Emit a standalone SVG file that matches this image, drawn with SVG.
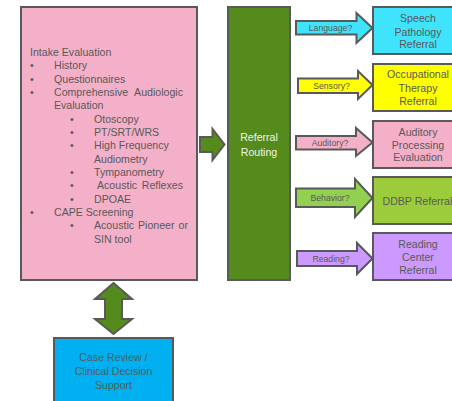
<svg xmlns="http://www.w3.org/2000/svg" width="452" height="401" viewBox="0 0 452 401">
<style>
  .box { stroke: #595959; stroke-width: 2; }
  .arr { stroke: #595959; stroke-width: 2; stroke-linejoin: miter; }
  text { font-family: "Liberation Sans", Arial, sans-serif; fill: #595959; }
  .lst { font-size: 10.6px; }
  .ref { font-size: 10.6px; text-anchor: middle; }
  .lbl { font-size: 8.7px; text-anchor: middle; }
  .wht { fill: #EEF3E8; }
</style>
<rect width="452" height="401" fill="#FFFFFF"/>

<g id="intake">
  <rect class="box" x="21" y="7" width="176" height="273" fill="#F4B0C8"/>
  <g class="lst">
    <text x="30" y="56">Intake Evaluation</text>
    <text x="30" y="69.3">•</text><text x="54" y="69.3">History</text>
    <text x="30" y="82.6">•</text><text x="54" y="82.6">Questionnaires</text>
    <text x="30" y="96">•</text><text x="54" y="96">Comprehensive</text><text x="183" y="96" text-anchor="end">Audiologic</text>
    <text x="54" y="109.3">Evaluation</text>
    <text x="70" y="122.6">•</text><text x="94" y="122.6">Otoscopy</text>
    <text x="70" y="136">•</text><text x="94" y="136">PT/SRT/WRS</text>
    <text x="70" y="149.3">•</text><text x="94" y="149.3">High Frequency</text>
    <text x="94" y="162.6">Audiometry</text>
    <text x="70" y="176">•</text><text x="94" y="176">Tympanometry</text>
    <text x="70" y="189.3">•</text><text x="97" y="189.3">Acoustic</text><text x="183" y="189.3" text-anchor="end">Reflexes</text>
    <text x="70" y="202.6">•</text><text x="94" y="202.6">DPOAE</text>
    <text x="30" y="216">•</text><text x="54" y="216">CAPE Screening</text>
    <text x="70" y="229.3">•</text><text x="94" y="229.3">Acoustic</text><text x="138" y="229.3">Pioneer</text><text x="188" y="229.3" text-anchor="end">or</text>
    <text x="94" y="242.6">SIN tool</text>
  </g>
</g>

<g id="routing">
  <rect class="box" x="228" y="7" width="62" height="273" fill="#548B1C"/>
  <text class="ref wht" x="259" y="141">Referral</text>
  <text class="ref wht" x="259" y="156">Routing</text>
</g>

<g id="speech">
  <rect class="box" x="373" y="7" width="92" height="47" fill="#3FE3FB"/>
  <text class="ref" x="418" y="22">Speech</text>
  <text class="ref" x="418" y="35.5">Pathology</text>
  <text class="ref" x="418" y="48">Referral</text>
</g>

<g id="ot">
  <rect class="box" x="373" y="64" width="92" height="47" fill="#FFFF00"/>
  <text class="ref" x="418" y="78">Occupational</text>
  <text class="ref" x="418" y="92">Therapy</text>
  <text class="ref" x="418" y="105">Referral</text>
</g>

<g id="apd">
  <rect class="box" x="373" y="121" width="92" height="47" fill="#F4B0C8"/>
  <text class="ref" x="418" y="136">Auditory</text>
  <text class="ref" x="418" y="148.5">Processing</text>
  <text class="ref" x="418" y="161">Evaluation</text>
</g>

<g id="ddbp">
  <rect class="box" x="373" y="177" width="92" height="47" fill="#9CCB3B"/>
  <text class="lst" x="382.5" y="205">DDBP Referral</text>
</g>

<g id="reading">
  <rect class="box" x="373" y="233" width="92" height="47" fill="#CC99FF"/>
  <text class="ref" x="418" y="248">Reading</text>
  <text class="ref" x="418" y="261">Center</text>
  <text class="ref" x="418" y="274">Referral</text>
</g>

<g id="casereview">
  <rect class="box" x="54" y="338" width="119" height="70" fill="#00B0F0"/>
  <text class="ref" x="113.5" y="361">Case Review /</text>
  <text class="ref" x="113.5" y="375">Clinical Decision</text>
  <text class="ref" x="113.5" y="388.5">Support</text>
</g>

<g id="connectors">
  <polygon class="arr" fill="#548B1C" points="200,137 212.5,137 212.5,129 224.5,144.5 212.5,160 212.5,152 200,152"/>
  <polygon class="arr" fill="#548B1C" points="113.5,283 132,299 122,299 122,319 132,319 113.5,334 95,319 105,319 105,299 95,299"/>

  <polygon class="arr" fill="#3FE3FB" points="296,21 356.5,21 356.5,13 372.5,28 356.5,43 356.5,34.5 296,34.5"/>
  <text class="lbl" x="330.5" y="31">Language?</text>

  <polygon class="arr" fill="#FFFF00" points="298,78.5 358,78.5 358,71 372.5,85 358,99 358,93 298,93"/>
  <text class="lbl" x="331.5" y="89">Sensory?</text>

  <polygon class="arr" fill="#F4B0C8" points="296,136 356,136 356,128 372.5,142.5 356,156 356,149.5 296,149.5"/>
  <text class="lbl" x="330" y="146">Auditory?</text>

  <polygon class="arr" fill="#92D050" points="296,188.5 355,188.5 355,179 372.5,198 355,217 355,207 296,207"/>
  <text class="lbl" x="330" y="201">Behavior?</text>

  <polygon class="arr" fill="#CC99FF" points="297,251 357,251 357,243 372.5,258.5 357,274 357,266 297,266"/>
  <text class="lbl" x="331" y="261.5">Reading?</text>
</g>
</svg>
